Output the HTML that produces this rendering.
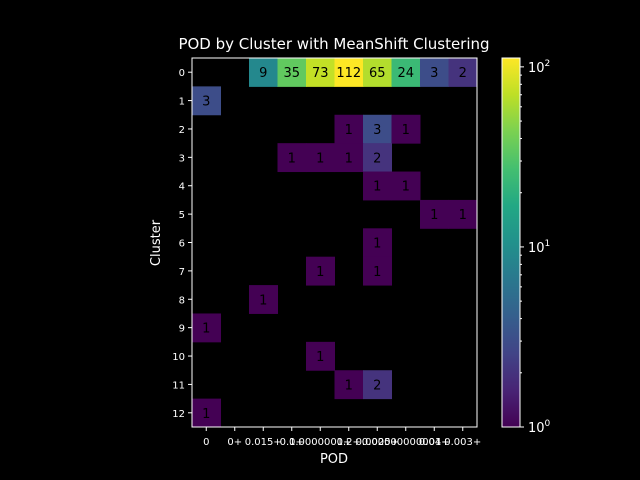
<!DOCTYPE html>
<html><head><meta charset="utf-8"><style>
html,body{margin:0;padding:0;background:#000;overflow:hidden;width:640px;height:480px;}
svg{display:block;}
text{font-family:"DejaVu Sans","Liberation Sans",sans-serif;}
</style></head><body>
<svg id="chart" width="640" height="480" xmlns="http://www.w3.org/2000/svg">
<rect width="640" height="480" fill="#000"/>
<defs><linearGradient id="vir" x1="0" y1="1" x2="0" y2="0">
<stop offset="0" stop-color="#440154"/><stop offset="0.1" stop-color="#482475"/><stop offset="0.2" stop-color="#414487"/><stop offset="0.3" stop-color="#355f8d"/><stop offset="0.4" stop-color="#2a788e"/><stop offset="0.5" stop-color="#21918c"/><stop offset="0.6" stop-color="#22a884"/><stop offset="0.7" stop-color="#44bf70"/><stop offset="0.8" stop-color="#7ad151"/><stop offset="0.9" stop-color="#bddf26"/><stop offset="1" stop-color="#fde725"/>
</linearGradient></defs>
<text x="334" y="49" text-anchor="middle" fill="#fff" font-size="15">POD by Cluster with MeanShift Clustering</text>
<g id="cells"></g>
<rect x="192" y="58" width="285" height="369" fill="none" stroke="#fff" stroke-width="1"/>
<g id="axes"></g>
<text x="334" y="463" text-anchor="middle" fill="#fff" font-size="13">POD</text>
<text transform="translate(160,243) rotate(-90)" text-anchor="middle" fill="#fff" font-size="13">Cluster</text>
<rect x="502" y="58" width="18" height="369" fill="url(#vir)" stroke="#fff" stroke-width="1"/>
<g id="cbar"></g>
</svg>
<script>
const categories=["0","0+","0.015+","0.1+","0.0000001+","0.2+","0.0025+","0.00000000001+","0.04+","0.003+"];
const clusters=["0","1","2","3","4","5","6","7","8","9","10","11","12"];
const values=[
[0,0,9,35,73,112,65,24,3,2],
[3,0,0,0,0,0,0,0,0,0],
[0,0,0,0,0,1,3,1,0,0],
[0,0,0,1,1,1,2,0,0,0],
[0,0,0,0,0,0,1,1,0,0],
[0,0,0,0,0,0,0,0,1,1],
[0,0,0,0,0,0,1,0,0,0],
[0,0,0,0,1,0,1,0,0,0],
[0,0,1,0,0,0,0,0,0,0],
[1,0,0,0,0,0,0,0,0,0],
[0,0,0,0,1,0,0,0,0,0],
[0,0,0,0,0,1,2,0,0,0],
[1,0,0,0,0,0,0,0,0,0]];
const vmin=1, vmax=112;
const NS="http://www.w3.org/2000/svg";
const L=192,T=58,W=285,H=369;
const cw=W/categories.length, rh=H/clusters.length;
const xs=i=>L+i*cw, ys=j=>T+j*rh;
const vir=[[68,1,84],[72,36,117],[65,68,135],[53,95,141],[42,120,142],[33,145,140],[34,168,132],[68,191,112],[122,209,81],[189,223,38],[253,231,37]];
function color(v){let t=Math.log(v/vmin)/Math.log(vmax/vmin);t=Math.max(0,Math.min(1,t))*10;const i=Math.min(9,Math.floor(t)),f=t-i;const c=vir[i].map((a,k)=>Math.round(a+(vir[i+1][k]-a)*f));return `rgb(${c})`;}
function mk(tag,attrs,parent){const e=document.createElementNS(NS,tag);for(const k in attrs)e.setAttribute(k,attrs[k]);parent.appendChild(e);return e;}
const cells=document.getElementById('cells');
values.forEach((row,j)=>row.forEach((v,i)=>{if(!v)return;
const r=mk('rect',{x:xs(i),y:ys(j),width:cw+0.5,height:rh+0.5,fill:color(v)},cells);


const t=mk('text',{x:xs(i)+cw/2,y:ys(j)+rh/2+5,'text-anchor':'middle','font-size':'13',fill:'#000'},cells);


t.textContent=v;}));
const ax=document.getElementById('axes');
categories.forEach((c,i)=>{const x=xs(i)+cw/2;mk('line',{x1:x,x2:x,y1:427,y2:431,stroke:'#fff'},ax);
const t=mk('text',{x:x,y:445,'text-anchor':'middle','font-size':'10',fill:'#fff'},ax);


t.textContent=c;});
clusters.forEach((c,j)=>{const y=ys(j)+rh/2;mk('line',{x1:188,x2:192,y1:y,y2:y,stroke:'#fff'},ax);
const t=mk('text',{x:185,y:y+4,'text-anchor':'end','font-size':'10',fill:'#fff'},ax);


t.textContent=c;});
const cb=document.getElementById('cbar');
const cy=v=>427-Math.log(v/vmin)/Math.log(vmax/vmin)*369;
for(let d=0;d<=2;d++)for(let m=1;m<10;m++){const v=m*Math.pow(10,d);if(v>vmax)break;const y=cy(v);
mk('line',{x1:520,x2:m===1?524:522,y1:y,y2:y,stroke:'#fff'},cb);
if(m===1){const t=mk('text',{x:528,y:y+5,'font-size':'13',fill:'#fff'},cb);


t.innerHTML='10<tspan dy="-6" font-size="9">'+d+'</tspan>';}}
</script>
</body></html>
